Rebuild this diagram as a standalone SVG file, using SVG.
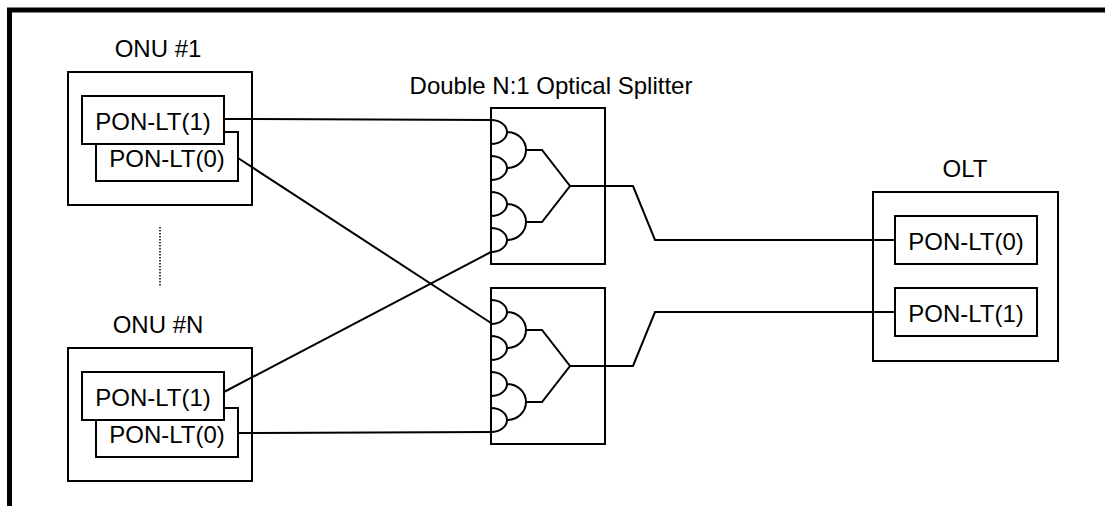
<svg xmlns="http://www.w3.org/2000/svg" width="1105" height="506" viewBox="0 0 1105 506">
<style>
text{font-family:"Liberation Sans",Arial,sans-serif;font-size:24px;fill:#000;text-anchor:middle}
.b{fill:#fff;stroke:#000;stroke-width:2}
.l{fill:none;stroke:#000;stroke-width:2}
</style>
<defs>
<g id="spl">
<rect class="b" x="0" y="0" width="114" height="156"/>
<path class="l" d="M0,12 A16,12 0 0 1 0,36 M0,48 A16,12 0 0 1 0,72 M0,84 A16,12 0 0 1 0,108 M0,120 A16,12 0 0 1 0,144 M16,24 A19,18 0 0 1 16,60 M16,96 A19,18 0 0 1 16,132 M35,42 H51 L79,78 L51,114 H35"/>
</g>
</defs>
<rect x="9.5" y="10" width="1200" height="600" fill="none" stroke="#000" stroke-width="5"/>
<g id="onu1">
<text x="158" y="57">ONU #1</text>
<rect class="b" x="68" y="72" width="184" height="133"/>
<rect class="b" x="96" y="132" width="142" height="49"/>
<text x="167" y="167">PON-LT(0)</text>
<rect class="b" x="82" y="96" width="142" height="48"/>
<text x="153" y="129.5">PON-LT(1)</text>
</g>
<g id="onuN">
<text x="158" y="333">ONU #N</text>
<rect class="b" x="68" y="348" width="184" height="133"/>
<rect class="b" x="96" y="408" width="142" height="49"/>
<text x="167" y="443">PON-LT(0)</text>
<rect class="b" x="82" y="372" width="142" height="48"/>
<text x="153" y="405.5">PON-LT(1)</text>
</g>
<line x1="160" y1="227" x2="160" y2="286" stroke="#000" stroke-width="1.5" stroke-dasharray="1.5,1.5"/>
<g id="splitter1">
<text x="551" y="94">Double N:1 Optical Splitter</text>
<use href="#spl" x="491" y="108"/>
</g>
<g id="splitter2">
<use href="#spl" x="491" y="288"/>
</g>
<g id="olt">
<text x="965" y="177">OLT</text>
<rect class="b" x="873" y="192" width="185" height="169"/>
<rect class="b" x="895" y="216" width="142" height="48"/>
<text x="966" y="249.5">PON-LT(0)</text>
<rect class="b" x="895" y="288" width="142" height="48"/>
<text x="966" y="321.5">PON-LT(1)</text>
</g>
<g id="connectors" class="l">
<path class="l" d="M224,119 L491,120"/>
<path class="l" d="M238,158 L491,323"/>
<path class="l" d="M224,392 L491,252"/>
<path class="l" d="M238,433 L491,432"/>
<path class="l" d="M570,186 H633 L655,240 H895"/>
<path class="l" d="M570,366 H633 L655,312 H895"/>
</g>
</svg>
